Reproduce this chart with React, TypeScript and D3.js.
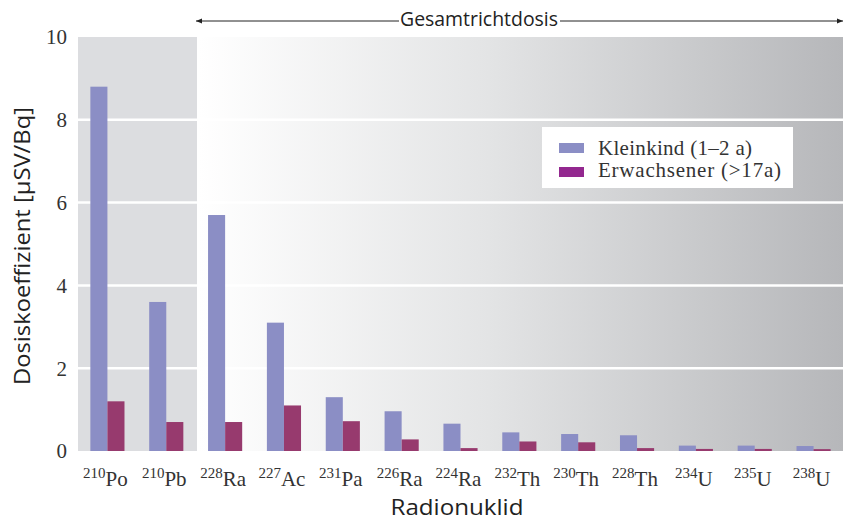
import React, { useEffect, useRef } from 'react';
import * as d3 from 'd3';

const nuclides = [
  { mass: '210', el: 'Po' },
  { mass: '210', el: 'Pb' },
  { mass: '228', el: 'Ra' },
  { mass: '227', el: 'Ac' },
  { mass: '231', el: 'Pa' },
  { mass: '226', el: 'Ra' },
  { mass: '224', el: 'Ra' },
  { mass: '232', el: 'Th' },
  { mass: '230', el: 'Th' },
  { mass: '228', el: 'Th' },
  { mass: '234', el: 'U' },
  { mass: '235', el: 'U' },
  { mass: '238', el: 'U' },
];
const kleinkind = [8.8, 3.6, 5.7, 3.1, 1.3, 0.96, 0.66, 0.45, 0.41, 0.38, 0.13, 0.13, 0.12];
const erwachsener = [1.2, 0.7, 0.7, 1.1, 0.72, 0.28, 0.07, 0.23, 0.21, 0.07, 0.05, 0.05, 0.045];
const seriesNames = ['Kleinkind (1–2 a)', 'Erwachsener (>17a)'];
const yTicks = [0, 2, 4, 6, 8, 10];

const barColors = ['#8b8ec5', '#973a6e'];
const legendColors = ['#8b8ec5', '#93288f'];
const legendWidths = [154, 183];

const App = () => {
  const ref = useRef<SVGSVGElement>(null);

  useEffect(() => {
    const svg = d3.select(ref.current);
    svg.selectAll('*').remove();

    const left = 78, right = 843, top = 37, bottom = 451;
    const splitX = 197;
    const serif = "'Liberation Serif', 'DejaVu Serif', serif";
    const sans = "'Open Sans', 'DejaVu Sans', sans-serif";

    const keys = nuclides.map((d, i) => `${d.mass}${d.el}-${i}`);
    const x = d3.scaleBand().domain(keys).range([left, right]).paddingInner(0.42).paddingOuter(0.21);
    const xs = d3.scaleBand().domain(['0', '1']).range([0, x.bandwidth()]);
    const y = d3.scaleLinear().domain([0, 10]).range([bottom, top]);

    const defs = svg.append('defs');
    const grad = defs.append('linearGradient').attr('id', 'bg').attr('x1', '0').attr('x2', '1').attr('y1', '0').attr('y2', '0');
    grad.append('stop').attr('offset', '0').attr('stop-color', '#ffffff');
    grad.append('stop').attr('offset', '0.45').attr('stop-color', '#e3e4e5');
    grad.append('stop').attr('offset', '1').attr('stop-color', '#b6b7ba');
    const mk = defs.append('marker').attr('id', 'arr').attr('viewBox', '0 0 10 10').attr('refX', 10).attr('refY', 5)
      .attr('markerWidth', 10).attr('markerHeight', 6).attr('orient', 'auto-start-reverse').attr('markerUnits', 'userSpaceOnUse');
    mk.append('path').attr('d', 'M0,1 L10,5 L0,9 Z').attr('fill', '#222');

    // backgrounds
    svg.append('rect').attr('x', left).attr('y', top).attr('width', splitX - left).attr('height', bottom - top).attr('fill', '#dcdde0');
    svg.append('rect').attr('x', splitX + 2).attr('y', top).attr('width', right - splitX - 2).attr('height', bottom - top).attr('fill', 'url(#bg)');

    // grid lines
    svg.append('g').selectAll('line').data(yTicks.filter(t => t > 0 && t < 10)).enter().append('line')
      .attr('x1', left).attr('x2', right).attr('y1', d => y(d)).attr('y2', d => y(d))
      .attr('stroke', '#ffffff').attr('stroke-width', 2.5);

    // y tick labels
    svg.append('g').selectAll('text').data(yTicks).enter().append('text')
      .attr('x', 67).attr('y', d => y(d)).attr('dy', '0.35em').attr('text-anchor', 'end')
      .attr('font-family', serif).attr('font-size', 21).attr('fill', '#333')
      .text(d => d);

    // bars
    const series = [kleinkind, erwachsener];
    const g = svg.append('g');
    series.forEach((vals, s) => {
      g.selectAll(`.b${s}`).data(vals).enter().append('rect')
        .attr('x', (d, i) => (x(keys[i]) as number) + (xs(String(s)) as number))
        .attr('y', d => y(d))
        .attr('width', xs.bandwidth())
        .attr('height', d => y(0) - y(d))
        .attr('fill', barColors[s]);
    });

    // x labels
    const xl = svg.append('g').selectAll('text').data(nuclides).enter().append('text')
      .attr('x', (d, i) => (x(keys[i]) as number) + x.bandwidth() / 2 - 2)
      .attr('y', 486).attr('text-anchor', 'middle')
      .attr('font-family', serif).attr('fill', '#333');
    xl.append('tspan').attr('font-size', 15).attr('dy', -8).text(d => d.mass);
    xl.append('tspan').attr('font-size', 21).attr('dy', 8).text(d => d.el);

    // axis titles
    svg.append('text').attr('x', 457).attr('y', 515).attr('text-anchor', 'middle')
      .attr('font-family', sans).attr('font-size', 22).attr('fill', '#222')
      .attr('textLength', 133).attr('lengthAdjust', 'spacingAndGlyphs').text('Radionuklid');
    svg.append('text').attr('transform', 'translate(30,246) rotate(-90)').attr('text-anchor', 'middle')
      .attr('font-family', sans).attr('font-size', 22).attr('fill', '#222')
      .attr('textLength', 278).attr('lengthAdjust', 'spacingAndGlyphs').text('Dosiskoeffizient [µSV/Bq]');

    // top annotation
    svg.append('text').attr('x', 479).attr('y', 26).attr('text-anchor', 'middle')
      .attr('font-family', sans).attr('font-size', 20).attr('fill', '#222')
      .attr('textLength', 158).attr('lengthAdjust', 'spacingAndGlyphs').text('Gesamtrichtdosis');
    svg.append('line').attr('x1', 399).attr('x2', 196).attr('y1', 21).attr('y2', 21)
      .attr('stroke', '#222').attr('stroke-width', 1).attr('marker-end', 'url(#arr)');
    svg.append('line').attr('x1', 560).attr('x2', 843).attr('y1', 21).attr('y2', 21)
      .attr('stroke', '#222').attr('stroke-width', 1).attr('marker-end', 'url(#arr)');

    // legend
    const lg = svg.append('g');
    lg.append('rect').attr('x', 542).attr('y', 127).attr('width', 251).attr('height', 61).attr('fill', '#ffffff');
    seriesNames.forEach((name, i) => {
      lg.append('rect').attr('x', 559).attr('y', 143 + i * 24).attr('width', 25).attr('height', 10).attr('fill', legendColors[i]);
      lg.append('text').attr('x', 598).attr('y', 155 + i * 22)
        .attr('font-family', serif).attr('font-size', 21).attr('fill', '#333')
        .attr('textLength', legendWidths[i]).attr('lengthAdjust', 'spacing').text(name);
    });
  }, []);

  return (
    <svg ref={ref} width={845} height={520} style={{ position: 'absolute', left: 0, top: 0, background: '#fff' }}></svg>
  );
};

export default App;
